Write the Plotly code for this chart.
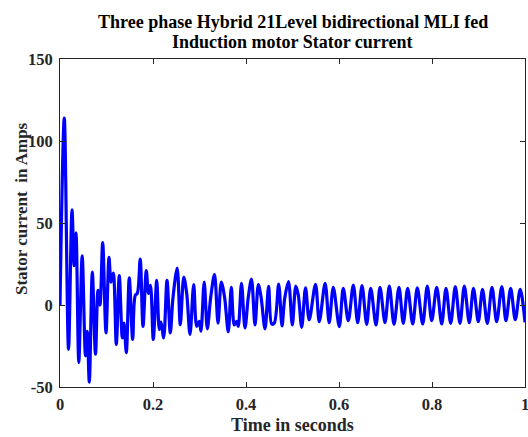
import plotly.graph_objects as go

# Time (s) and stator current (A) read at turning points of the waveform
time_s = [0.0, 0.0092, 0.0183, 0.0258, 0.0305, 0.0344, 0.0404, 0.0477, 0.0548, 0.0585,
          0.0630, 0.0695, 0.0763, 0.0817, 0.0860, 0.0918, 0.0989, 0.1054, 0.1097, 0.1146,
          0.1211, 0.1275, 0.1340, 0.1376, 0.1426, 0.1490, 0.1563, 0.1619, 0.1662, 0.1725,
          0.1785, 0.1856, 0.1903, 0.1946, 0.2006, 0.2080, 0.2135, 0.2172, 0.2230, 0.2301,
          0.2372, 0.2430, 0.2520, 0.2587, 0.2662, 0.2725, 0.2796, 0.2875, 0.2940, 0.2996,
          0.3032, 0.3101, 0.3168, 0.3241, 0.3323, 0.3398, 0.3469, 0.3538, 0.3619, 0.3684,
          0.3748, 0.3800, 0.3834, 0.3903, 0.3978, 0.4049, 0.4118, 0.4194, 0.4265, 0.4323,
          0.4409, 0.4486, 0.4553, 0.4609, 0.4703, 0.4774, 0.4832, 0.4914, 0.4996, 0.5071,
          0.5125, 0.5198, 0.5280, 0.5359, 0.5495, 0.5576, 0.5701, 0.5789, 0.5877, 0.6006,
          0.6092, 0.6200, 0.6308, 0.6402, 0.6495, 0.6596, 0.6682, 0.6796, 0.6882, 0.6989,
          0.7082, 0.7183, 0.7290, 0.7383, 0.7477, 0.7585, 0.7684, 0.7800, 0.7899, 0.7994,
          0.8101, 0.8209, 0.8301, 0.8402, 0.8501, 0.8602, 0.8695, 0.8802, 0.8892, 0.8996,
          0.9086, 0.9189, 0.9290, 0.9391, 0.9501, 0.9591, 0.9692, 0.9791, 0.9897, 1.0]

stator_current = [0, 114, -27, 58, 24, 44, -35, 30, -31, -16,
                  -47, 20, -30, 9, 0, 38, -17, 29, 14, 19.5,
                  -24, 18, -20, -11, -29, 16.5, -21, 6, 7, 28,
                  -13, 21, 7, 12, -21, 15, -15, -10.5, -20, 15,
                  -17, 4.5, 22.5, -12, 17, 7, -18, 12.5, -13, -10,
                  -16, 14, -14.5, 4.7, 18.7, -11, 14, 5, -16.3, 10.8,
                  -12.2, -10, -13, 13.2, -14, 4.7, 15.8, -12.2, 12.4, 5,
                  -14.5, 11.3, -11.6, -11, 12.8, -12.8, 4, 14.3, -12.2, 11.6,
                  6, -13.6, 10.5, -9, 12.6, -10.2, 13.2, -10.8, 10.8, -13.2,
                  10.2, -9.6, 12.2, -10.8, 11.8, -11.8, 10.2, -12.2, 10.8, -10.8,
                  11.6, -11.8, 10.8, -11.2, 10.2, -11.6, 10.4, -11.6, 11.6, -9.6,
                  10.8, -11.6, 10.2, -11.2, 11.2, -11.2, 11.6, -10.8, 10.2, -10.2,
                  9.6, -11.2, 10.8, -10.2, 11.2, -9.6, 10.2, -9.0, 9.6, -10.5]

x_ticks = [0, 0.2, 0.4, 0.6, 0.8, 1]
x_tick_labels = ["0", "0.2", "0.4", "0.6", "0.8", "1"]
y_ticks = [-50, 0, 50, 100, 150]
y_tick_labels = ["-50", "0", "50", "100", "150"]

title_lines = ["Three phase Hybrid 21Level bidirectional MLI fed",
               "Induction motor Stator current"]
x_title = "Time in seconds"
y_title = "Stator current\u00a0 in Amps"

font_family = "Liberation Serif, Times New Roman, serif"
ink = "#262626"

fig = go.Figure()
fig.add_trace(go.Scatter(
    x=time_s, y=stator_current, mode="lines",
    line=dict(color="#0000FF", width=3.2, shape="spline", smoothing=0.9),
    showlegend=False, hoverinfo="skip",
))

axis_common = dict(
    showgrid=False, zeroline=False, showline=True, linecolor=ink, linewidth=1,
    mirror="ticks", ticks="inside", ticklen=5, tickcolor=ink, tickwidth=1,
    tickfont=dict(family=font_family, size=16.5, color=ink),
    automargin=False, ticklabeloverflow="allow",
)

fig.update_layout(
    width=528, height=437,
    margin=dict(l=60, r=3, t=59, b=50, autoexpand=False),
    paper_bgcolor="white", plot_bgcolor="white",
    xaxis=dict(range=[0, 1], tickvals=x_ticks,
               ticktext=[f"<b>{t}</b>" for t in x_tick_labels],
               ticklabelstandoff=2, **axis_common),
    yaxis=dict(range=[-50, 150], tickvals=y_ticks,
               ticktext=[f"<b>{t}</b>" for t in y_tick_labels],
               ticklabelstandoff=3, **axis_common),
)

fig.add_annotation(text=f"<b>{title_lines[0]}</b>", xref="paper", yref="paper",
                   x=0.5, y=1.1128, xanchor="center", yanchor="middle", showarrow=False,
                   font=dict(family=font_family, size=18, color="black"))
fig.add_annotation(text=f"<b>{title_lines[1]}</b>", xref="paper", yref="paper",
                   x=0.5, y=1.0518, xanchor="center", yanchor="middle", showarrow=False,
                   font=dict(family=font_family, size=18, color="black"))
fig.add_annotation(text=f"<b>{x_title}</b>", xref="paper", yref="paper",
                   x=0.501, y=-0.1159, xanchor="center", yanchor="middle", showarrow=False,
                   font=dict(family=font_family, size=18, color=ink))
fig.add_annotation(text=f"<b>{y_title}</b>", xref="paper", yref="paper", textangle=-90,
                   x=-0.0817, y=0.5427, xanchor="center", yanchor="middle", showarrow=False,
                   font=dict(family=font_family, size=17, color=ink))

# remove the default 8px page margin so the figure sits at the window's top-left corner
fig.write_html("out.html", config={"displayModeBar": False},
               post_script="document.body.style.margin='0';")
